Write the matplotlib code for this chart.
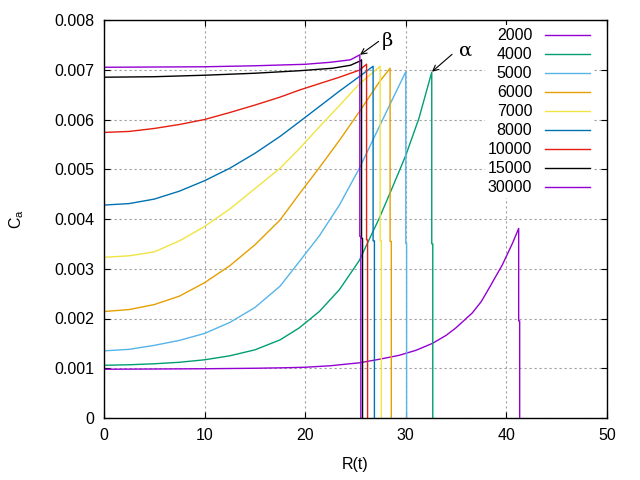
import matplotlib
matplotlib.use("Agg")
import matplotlib.pyplot as plt

plt.rcParams["font.family"] = ["Liberation Sans", "DejaVu Sans"]
plt.rcParams["mathtext.fontset"] = "custom"
plt.rcParams["mathtext.rm"] = "Liberation Sans"
plt.rcParams["mathtext.it"] = "Liberation Sans"

# ---------------------------------------------------------------------------
# Data (R(t), Ca) - each run ends with its drop to 0
# ---------------------------------------------------------------------------
labels = ["2000", "4000", "5000", "6000", "7000", "8000", "10000", "15000", "30000"]
colors = ["#9400d3", "#009e73", "#56b4e9", "#e69f00", "#f0e442",
          "#0072b2", "#e51e10", "#000000", "#9400d3"]

r_2000 = [0, 10, 15, 18, 20, 22.5, 25.4, 27.35, 29.34, 31, 32.65, 34, 34.97,
          36.6, 37.5, 38.28, 39.6, 40.6, 41.22, 41.22, 41.32, 41.32]
ca_2000 = [0.00098, 0.00099, 0.00100, 0.00101, 0.00102, 0.00105, 0.00111, 0.00118,
           0.00126, 0.00136, 0.00150, 0.00166, 0.00181, 0.00211, 0.00234, 0.00261,
           0.00308, 0.00351, 0.00381, 0.00195, 0.00195, 0]

r_4000 = [0, 2.5, 5, 7.5, 10, 12.5, 15, 17.5, 19.4, 21.4, 23.4, 25.36, 27.35,
          28.68, 30, 31.3, 32.58, 32.58, 32.68, 32.68]
ca_4000 = [0.00106, 0.00107, 0.00109, 0.00112, 0.00117, 0.00125, 0.00137, 0.00157,
           0.00181, 0.00214, 0.00258, 0.00316, 0.00401, 0.00464, 0.00528, 0.00602,
           0.00695, 0.00350, 0.00350, 0]

r_5000 = [0, 2.5, 5, 7.5, 10, 12.5, 15, 17.5, 19.4, 21.4, 23.4, 25.36, 27.35,
          28.68, 30.0, 30.0, 30.08, 30.08]
ca_5000 = [0.00135, 0.00138, 0.00146, 0.00156, 0.00170, 0.00192, 0.00222, 0.00265,
           0.00314, 0.00366, 0.00428, 0.00501, 0.00585, 0.00641, 0.00696, 0.00351,
           0.00351, 0]

r_6000 = [0, 2.5, 5, 7.5, 10, 12.5, 15, 17.5, 19.4, 21.4, 23.4, 25.36, 27.35,
          28.44, 28.44, 28.56, 28.56]
ca_6000 = [0.00214, 0.00218, 0.00228, 0.00245, 0.00272, 0.00306, 0.00348, 0.00398,
           0.00450, 0.00503, 0.00558, 0.00615, 0.00675, 0.00703, 0.00355, 0.00355, 0]

r_7000 = [0, 2.5, 5, 7.5, 10, 12.5, 15, 17.5, 19.4, 21.4, 23.4, 25.36, 27.45,
          27.45, 27.57, 27.57]
ca_7000 = [0.00323, 0.00326, 0.00334, 0.00356, 0.00385, 0.00420, 0.00461, 0.00502,
           0.00541, 0.00585, 0.00628, 0.00671, 0.00707, 0.00356, 0.00356, 0]

r_8000 = [0, 2.5, 5, 7.5, 10, 12.5, 15, 17.5, 19.4, 21.4, 23.4, 25.36, 26.75,
          26.75, 26.88, 26.88]
ca_8000 = [0.00428, 0.00431, 0.00440, 0.00456, 0.00477, 0.00502, 0.00532, 0.00566,
           0.00595, 0.00626, 0.00657, 0.00686, 0.00707, 0.00356, 0.00356, 0]

r_10000 = [0, 2.5, 5, 7.5, 10, 12.5, 15, 17.5, 19.4, 21.4, 23.4, 25.36, 26.1,
           26.1, 26.2, 26.2]
ca_10000 = [0.00574, 0.00576, 0.00582, 0.00590, 0.00600, 0.00614, 0.00629, 0.00645,
            0.00659, 0.00672, 0.00685, 0.00699, 0.00711, 0.00358, 0.00358, 0]

r_15000 = [0, 5, 10, 15, 19.4, 22.7, 24.5, 25.5, 25.6, 25.6, 25.7, 25.7]
ca_15000 = [0.00685, 0.00686, 0.00689, 0.00693, 0.00698, 0.00703, 0.00709, 0.00718,
            0.00720, 0.00361, 0.00361, 0]

r_30000 = [0, 10, 15, 20, 22.5, 24.5, 25.43, 25.43, 25.53, 25.53]
ca_30000 = [0.00705, 0.00706, 0.00708, 0.00711, 0.00715, 0.00720, 0.00730,
            0.00365, 0.00365, 0]

r_runs = [r_2000, r_4000, r_5000, r_6000, r_7000, r_8000, r_10000, r_15000, r_30000]
ca_runs = [ca_2000, ca_4000, ca_5000, ca_6000, ca_7000, ca_8000, ca_10000, ca_15000, ca_30000]

# ---------------------------------------------------------------------------
fig = plt.figure(figsize=(6.4, 4.8), dpi=100)
ax = fig.add_axes([104 / 640, 62 / 480, 503 / 640, 398 / 480])

for r, ca, lab, col in zip(r_runs, ca_runs, labels, colors):
    ax.plot(r, ca, color=col, lw=1.0, label=lab)

ax.set_xlim(0, 50)
ax.set_ylim(0, 0.008)
ax.set_xticks([0, 10, 20, 30, 40, 50])
ax.set_yticks([0, 0.001, 0.002, 0.003, 0.004, 0.005, 0.006, 0.007, 0.008])
ax.set_yticklabels(["0", "0.001", "0.002", "0.003", "0.004", "0.005",
                    "0.006", "0.007", "0.008"])
ax.tick_params(direction="in", length=4.5, width=0.8, labelsize=11.5,
               top=True, right=True, pad=7)
ax.grid(True, color="#a0a0a0", linestyle=(0, (2, 2.5)), lw=0.8)
for s in ax.spines.values():
    s.set_linewidth(1.0)
    s.set_zorder(5)

ax.set_xlabel("R(t)", fontsize=11.5, labelpad=10)
ax.set_ylabel(r"C$_\mathrm{a}$", fontsize=11.5, labelpad=20)

# annotations
ax.annotate("", xy=(25.45, 0.0073), xytext=(27.3, 0.00757),
            arrowprops=dict(arrowstyle="->", color="black", lw=0.8,
                            shrinkA=0, shrinkB=0))
ax.text(27.6, 0.00757, "β", fontsize=14, family="DejaVu Serif",
        ha="left", va="center")
ax.annotate("", xy=(32.6, 0.00696), xytext=(34.6, 0.00731),
            arrowprops=dict(arrowstyle="->", color="black", lw=0.8,
                            shrinkA=0, shrinkB=0))
ax.text(35.3, 0.00738, "α", fontsize=14, family="DejaVu Serif",
        ha="left", va="center")

leg = ax.legend(loc="upper right", bbox_to_anchor=(593 / 640, 455 / 480),
                bbox_transform=fig.transFigure, markerfirst=False,
                frameon=True, fancybox=False, framealpha=1,
                edgecolor="none", facecolor="white", fontsize=11.5,
                handlelength=2.8, handletextpad=0.8, labelspacing=0.25,
                borderpad=0.2, borderaxespad=0)

fig.savefig("out.png", dpi=100)
